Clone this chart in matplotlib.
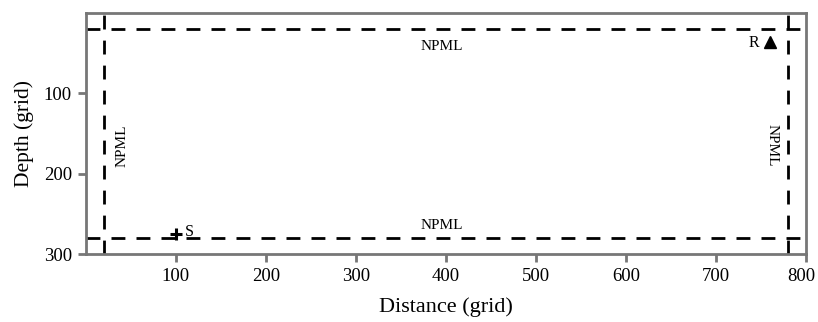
import matplotlib
matplotlib.use('Agg')
from matplotlib import pyplot as plt
from matplotlib.transforms import ScaledTranslation

# grid geometry
nx = 800
nz = 300
npml = 20
src = [100, 275]
rec = [760, 36]

plt.rcParams['font.family'] = ['Liberation Serif', 'DejaVu Serif']

fig = plt.figure(figsize=(8.18, 3.22), dpi=100)
ax = fig.add_axes([0.105, 0.211, 0.880, 0.749])

# PML boundaries
ax.axvline(npml, color='black', lw=2, dashes=(5, 4))
ax.axvline(nx - npml, color='black', lw=2, dashes=(5, 4))
ax.axhline(npml, color='black', lw=2, dashes=(5, 4))
ax.axhline(nz - npml, color='black', lw=2, dashes=(5, 4))

ax.plot(src[0], src[1], marker='+', color='black', ms=9, mew=2.2)
ax.plot(rec[0], rec[1], marker='^', color='black', ms=8)
ax.text(src[0] + 10, src[1] - 3, 'S', fontsize=11.5, va='center')
ax.text(rec[0] - 24, rec[1] + 1, 'R', fontsize=11.5, va='center')

ax.text(395, 42, 'NPML', fontsize=11, ha='center', va='center')
ax.text(395, 265, 'NPML', fontsize=11, ha='center', va='center')
ax.text(40, 165, 'NPML', fontsize=11, ha='center', va='center', rotation=90)
ax.text(762, 165, 'NPML', fontsize=11, ha='center', va='center', rotation=-90)

ax.set_xlim(0, nx)
ax.set_ylim(nz, 0)
ax.set_xticks([100, 200, 300, 400, 500, 600, 700, 800])
ax.set_yticks([100, 200, 300])
ax.tick_params(colors='#777777', labelcolor='black', labelsize=13.5, width=2, length=6, pad=4)
for s in ax.spines.values():
    s.set_color('#777777')
    s.set_linewidth(2)

# nudge the last x label so it stays inside the figure
last = ax.get_xticklabels()[-1]
last.set_transform(last.get_transform() + ScaledTranslation(-4 / 100, 0, fig.dpi_scale_trans))

ax.set_xlabel('Distance (grid)', fontsize=16, labelpad=9)
ax.set_ylabel('Depth (grid)', fontsize=15.5, labelpad=7)

plt.savefig('out.png', dpi=100)
